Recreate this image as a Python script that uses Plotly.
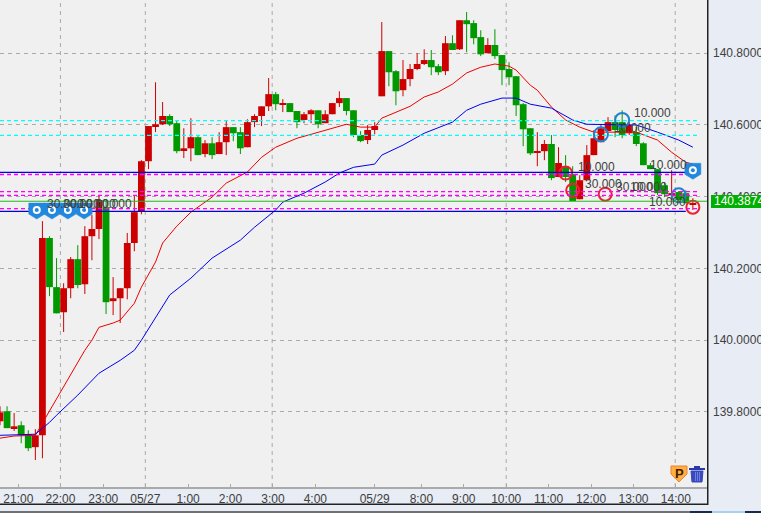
import plotly.graph_objects as go

# candle data (index = 10-minute bar position)
opens = [139.774,139.802,139.755,139.763,139.738,139.702,139.735,140.285,140.148,140.078,
 140.145,140.226,140.156,140.290,140.310,140.371,140.109,140.117,140.145,140.271,
 140.360,140.499,140.597,140.602,140.625,140.605,140.530,140.535,140.566,140.519,
 140.549,140.519,140.552,140.594,140.580,140.538,140.608,140.625,140.652,140.686,
 140.658,140.661,140.639,140.614,140.630,140.641,140.605,140.630,140.661,140.675,
 140.641,140.572,140.558,140.586,140.680,140.806,140.750,140.697,140.728,140.756,
 140.770,140.781,140.764,140.750,140.828,140.811,140.892,140.884,140.845,140.800,
 140.823,140.795,140.756,140.736,140.658,140.591,140.524,140.527,140.547,140.455,
 140.485,140.463,140.393,140.446,140.516,140.552,140.583,140.608,140.608,140.577,
 140.580,140.549,140.488,140.477,140.432,140.404,140.413,140.410,140.377]
highs = [139.816,139.816,139.797,139.774,139.749,139.752,140.332,140.290,140.229,140.159,
 140.232,140.265,140.318,140.349,140.402,140.391,140.176,140.145,140.299,140.402,
 140.502,140.597,140.719,140.664,140.630,140.614,140.591,140.619,140.569,140.558,
 140.566,140.580,140.611,140.594,140.594,140.616,140.630,140.652,140.731,140.692,
 140.672,140.661,140.639,140.636,140.644,140.641,140.641,140.661,140.694,140.675,
 140.641,140.583,140.600,140.608,140.887,140.806,140.753,140.781,140.770,140.800,
 140.811,140.809,140.770,140.848,140.850,140.892,140.915,140.892,140.864,140.842,
 140.867,140.795,140.775,140.736,140.661,140.591,140.580,140.558,140.572,140.538,
 140.516,140.485,140.460,140.544,140.586,140.600,140.622,140.627,140.641,140.608,
 140.594,140.552,140.494,140.477,140.441,140.474,140.416,140.418,140.396]
lows = [139.763,139.755,139.747,139.713,139.691,139.666,139.671,140.123,140.075,140.023,
 140.117,140.145,140.129,140.223,140.282,140.073,140.070,140.048,140.114,140.248,
 140.351,140.477,140.580,140.600,140.597,140.521,140.508,140.499,140.516,140.510,
 140.505,140.519,140.516,140.555,140.519,140.538,140.594,140.597,140.639,140.641,
 140.636,140.636,140.591,140.605,140.605,140.591,140.605,140.630,140.650,140.627,
 140.566,140.552,140.547,140.574,140.680,140.708,140.655,140.680,140.708,140.753,
 140.767,140.739,140.739,140.739,140.809,140.809,140.803,140.825,140.792,140.800,
 140.784,140.711,140.711,140.625,140.541,140.516,140.485,140.502,140.446,140.455,
 140.441,140.388,140.393,140.446,140.516,140.552,140.583,140.566,140.563,140.572,
 140.541,140.488,140.477,140.405,140.399,140.391,140.388,140.382,140.363]
closes = [139.799,139.755,139.760,139.735,139.699,139.735,140.285,140.148,140.075,140.145,
 140.226,140.154,140.290,140.310,140.391,140.106,140.117,140.145,140.271,140.357,
 140.499,140.597,140.602,140.625,140.602,140.527,140.535,140.566,140.516,140.549,
 140.516,140.552,140.594,140.577,140.535,140.608,140.625,140.652,140.686,140.658,
 140.661,140.636,140.608,140.630,140.641,140.602,140.630,140.661,140.675,140.639,
 140.572,140.555,140.586,140.597,140.806,140.747,140.694,140.728,140.756,140.770,
 140.781,140.761,140.747,140.828,140.809,140.892,140.881,140.842,140.797,140.823,
 140.792,140.753,140.733,140.655,140.588,140.521,140.527,140.547,140.452,140.494,
 140.455,140.388,140.446,140.516,140.563,140.591,140.608,140.586,140.572,140.600,
 140.547,140.488,140.477,140.410,140.407,140.410,140.391,140.382,140.380]
bars = list(range(len(opens)))

# moving averages, read at selected bars
red_ma_x = [0,2,5,6,8,10,11,12,13,14,16,17,19,20,22,23,25,27,30,32,35,37,39,42,44,47,49,51,53,54,58,60,62,64,66,68,70,72,73,75,76,78,80,82,84,86,90,93,95,97,98]
red_ma = [139.727,139.733,139.735,139.769,139.833,139.903,139.939,139.972,140.000,140.036,140.048,140.056,140.103,140.148,140.218,140.271,140.318,140.357,140.399,140.438,140.469,140.510,140.538,140.563,140.574,140.591,140.602,140.594,140.594,140.619,140.652,140.678,140.692,140.714,140.745,140.761,140.770,140.764,140.753,140.711,140.697,140.650,140.614,140.594,140.580,140.580,140.580,140.558,140.524,140.496,140.491]
blue_ma_x = [0,5,7,8,11,13,14,17,19,20,22,24,27,30,34,36,39,40,43,46,48,50,53,54,57,60,64,66,68,71,73,75,78,81,83,86,90,93,96,98]
blue_ma = [139.735,139.738,139.771,139.791,139.847,139.889,139.908,139.944,139.972,140.000,140.064,140.126,140.173,140.229,140.279,140.315,140.363,140.385,140.410,140.441,140.466,140.482,140.491,140.516,140.544,140.577,140.608,140.641,140.658,140.675,140.675,140.658,140.647,140.614,140.602,140.602,140.600,140.580,140.558,140.538]

# horizontal price levels
cyan_levels = [140.612, 140.571]
blue_levels = [140.468, 140.359]
magenta_levels = [140.462, 140.414, 140.404, 140.367]
last_price = 140.3874

# axes
y_ticks = [139.8, 140.0, 140.2, 140.4, 140.6, 140.8]
y_labels = ["139.8000", "140.0000", "140.2000", "140.4000", "140.6000", "140.8000"]
x_ticks = [2.6, 8.55, 14.6, 20.55, 26.6, 32.6, 38.6, 44.6, 53, 59.6, 65.6, 71.6, 77.6, 83.6, 89.6, 95.6]
x_labels = ["21:00", "22:00", "23:00", "05/27", "1:00", "2:00", "3:00", "4:00", "05/29", "8:00", "9:00", "10:00", "11:00", "12:00", "13:00", "14:00"]
x_grid = [8.55, 20.55, 38.5, 71.6, 95.5]

# trade markers
blue_ring_x = [85, 88, 96]
blue_ring_y = [140.574, 140.614, 140.404]
red_ring_x = [80, 81, 85.6, 98]
red_ring_y = [140.466, 140.418, 140.407, 140.371]
flag_x = [5.2, 7.35, 9.6, 11.9, 98]
flag_y = [140.360, 140.360, 140.360, 140.360, 140.471]
lot_text = ["30.000", "30.000", "10.000", "10.000", "10.000", "10.000", "30.000", "30.000", "10.000", "10.000", "10.000", "10.000"]
lot_x = [6.36, 8.63, 10.89, 13.15, 89.4, 81.5, 82.5, 86.8, 88.8, 91.65, 91.5, 86.6]
lot_y = [140.379, 140.379, 140.379, 140.379, 140.633, 140.483, 140.435, 140.427, 140.427, 140.488, 140.385, 140.591]

W, H = 761, 513
PLOT_W, PLOT_H = 707, 487
FONT = "Liberation Sans"
UP, DOWN = "#cc0000", "#009900"
GRID = "#aaaaaa"
TEXT = "#404040"

fig = go.Figure()

# wicks, one line per bar, split by colour
for color, test in ((UP, lambda o, c: c >= o), (DOWN, lambda o, c: c < o)):
    wx, wy = [], []
    for i, o, h, l, c in zip(bars, opens, highs, lows, closes):
        if test(o, c):
            wx += [i, i, None]
            wy += [l, h, None]
    fig.add_trace(go.Scatter(x=wx, y=wy, mode="lines", line=dict(color=color, width=1), hoverinfo="skip"))

# bodies
fig.add_trace(go.Bar(
    x=bars,
    base=[min(o, c) for o, c in zip(opens, closes)],
    y=[abs(c - o) for o, c in zip(opens, closes)],
    width=0.96,
    marker=dict(color=[UP if c >= o else DOWN for o, c in zip(opens, closes)],
                line=dict(width=0)),
    hoverinfo="skip"))
fig.add_trace(go.Scatter(x=red_ma_x, y=red_ma, mode="lines", line=dict(color="#ee0000", width=1), hoverinfo="skip"))
fig.add_trace(go.Scatter(x=blue_ma_x, y=blue_ma, mode="lines", line=dict(color="#0000ee", width=1), hoverinfo="skip"))


def px(x):
    return x / PLOT_W


def py(y):
    return 1 - y / PLOT_H


shapes = []
for gx in x_grid:
    shapes.append(dict(type="line", xref="x", yref="paper", x0=gx, x1=gx, y0=0, y1=1,
                       line=dict(color=GRID, width=1, dash="4px,4px"), layer="below"))


def level(price, color, dash, end, width=1.0):
    shapes.append(dict(type="line", xref="x", yref="y", x0=0, x1=end, y0=price, y1=price,
                       line=dict(color=color, width=width, dash=dash)))


for p in cyan_levels:
    level(p, "#00ffff", "4px,3px", 98.6, 1.3)
for p in blue_levels:
    level(p, "#0000e0", "solid", 97, 1.3)
for p in magenta_levels:
    level(p, "#ff00ff", "4px,3px", 98.6, 1.3)
level(last_price, "#22bb22", "solid", 100, 1.0)


def rect(x0, y0, x1, y1, color):
    shapes.append(dict(type="rect", xref="paper", yref="paper", x0=px(x0), x1=px(x1), y0=py(y0), y1=py(y1),
                       fillcolor=color, line=dict(width=0)))


def path(points, color, linecolor=None):
    d = "M" + " L".join(f"{px(a):.5f},{py(b):.5f}" for a, b in points) + " Z"
    shapes.append(dict(type="path", xref="paper", yref="paper", path=d, fillcolor=color,
                       line=dict(color=linecolor or color, width=1)))


# shield markers: fixed pixel size, anchored to the data
for fx, fy in zip(flag_x, flag_y):
    anchor = dict(xref="x", yref="y", xsizemode="pixel", ysizemode="pixel", xanchor=fx, yanchor=fy)
    shapes.append(dict(type="path", path="M-8,8 L8,8 L8,-3 L0,-8 L-8,-3 Z", fillcolor="#2288dd",
                       line=dict(color="#2288dd", width=0.5), **anchor))
    shapes.append(dict(type="circle", x0=-4, x1=4, y0=-3, y1=5, fillcolor="#ffffff", line=dict(width=0), **anchor))
    shapes.append(dict(type="circle", x0=-2, x1=2, y0=-1, y1=3, fillcolor="#2288dd", line=dict(width=0), **anchor))

# window frame
rect(707, 0, 708.5, 505, "#222222")
rect(0, 503.5, 708, 505, "#222222")
rect(0, 511, 690, 513, "#707070")
rect(690, 511, 712, 513, "#1a2a4a")
rect(712, 511, 745, 513, "#a8d0f0")
rect(745, 511, 761, 513, "#1a2a4a")
# last price flag
rect(711, 195, 761, 208, "#00b000")
# P button
path([(671, 466), (687, 466), (687, 474), (679, 482), (671, 474)], "#ffb040", "#f08030")
# trash button
path([(691, 471), (703, 471), (702, 482), (692, 482)], "#3848c0")
rect(689, 468, 705, 470, "#2a3aa8")
rect(694, 466, 700, 468, "#2a3aa8")
for bx in (695, 697, 699):
    rect(bx, 472, bx + 0.8, 481, "#8090e0")

annotations = [dict(x=x, y=y, xref="x", yref="y", text=t, showarrow=False, xanchor="left", yanchor="middle",
                    xshift=0, font=dict(family=FONT, size=12, color=TEXT))
               for x, y, t in zip(lot_x, lot_y, lot_text)]
annotations.append(dict(x=px(712), y=py(201.5), xref="paper", yref="paper", text=f"{last_price:.4f}", showarrow=False,
                        xanchor="left", yanchor="middle", font=dict(family=FONT, size=12, color="#ffffff")))
annotations.append(dict(x=px(679), y=py(473), xref="paper", yref="paper", text="<b>P</b>", showarrow=False,
                        xanchor="center", yanchor="middle", font=dict(family=FONT, size=13, color="#402000")))

fig.add_trace(go.Scatter(x=blue_ring_x, y=blue_ring_y, mode="markers", hoverinfo="skip",
                         marker=dict(symbol="circle-open", size=14, color="#2080d0", line=dict(color="#2080d0", width=2))))
fig.add_trace(go.Scatter(x=red_ring_x, y=red_ring_y, mode="markers", hoverinfo="skip",
                         marker=dict(symbol="circle-open", size=13, color="#ee2030", line=dict(color="#ee2030", width=2))))

fig.update_layout(
    width=W, height=H, autosize=False, showlegend=False,
    margin=dict(l=0, r=54, t=0, b=26, pad=0),
    paper_bgcolor="#e8ecf4", plot_bgcolor="#f0f0f0",
    barmode="overlay", shapes=shapes, annotations=annotations,
    font=dict(family=FONT, size=12, color=TEXT),
    xaxis=dict(range=[0, 100], tickmode="array", tickvals=x_ticks, ticktext=x_labels, automargin=False,
               showgrid=False, zeroline=False, showline=True, linecolor=GRID, linewidth=2,
               ticks="inside", ticklen=3, tickcolor=GRID, tickangle=0,
               tickfont=dict(family=FONT, size=12, color=TEXT)),
    yaxis=dict(range=[139.5909, 140.9484], side="right", tickmode="array", tickvals=y_ticks, ticktext=y_labels,
               automargin=False,
               showgrid=True, gridcolor=GRID, griddash="4px,4px", gridwidth=1, zeroline=False, showline=False,
               ticks="", ticklabelstandoff=5,
               tickfont=dict(family=FONT, size=12, color=TEXT)),
)
fig.write_html("out.html", config=dict(displayModeBar=False),
               post_script="document.body.style.margin='0';document.body.style.overflow='hidden';document.body.style.background='#e8ecf4';")
